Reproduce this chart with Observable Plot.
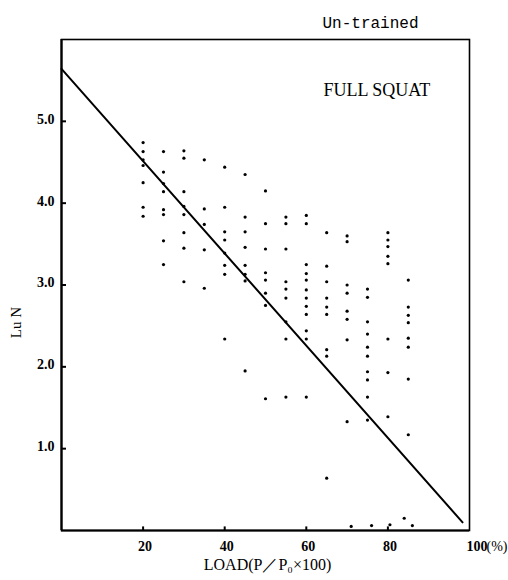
<!DOCTYPE html>
<html>
<head>
<meta charset="utf-8">
<script src="https://cdn.jsdelivr.net/npm/d3@7"></script>
<script src="https://cdn.jsdelivr.net/npm/@observablehq/plot@0.6"></script>
<style>
  html, body { margin: 0; padding: 0; background: #fff; }
  #chart svg { display: block; }
</style>
</head>
<body>
<div id="chart"></div>
<script>
// Load levels (% of P0) at which repetitions were measured
const loadLevels = [20, 25, 30, 35, 40, 45, 50, 55, 60, 65, 70, 75, 80, 85];
// Ln N values observed at each load level (same order as loadLevels)
const lnN = [
  [4.74, 4.63, 4.53, 4.46, 4.25, 3.95, 3.84],
  [4.63, 4.38, 4.24, 4.14, 3.92, 3.86, 3.54, 3.25],
  [4.64, 4.55, 4.14, 3.96, 3.86, 3.64, 3.45, 3.04],
  [4.53, 3.93, 3.74, 3.43, 2.96],
  [4.44, 3.95, 3.65, 3.55, 3.39, 3.24, 3.13, 2.34],
  [4.35, 3.83, 3.65, 3.46, 3.24, 3.13, 3.05, 1.95],
  [4.15, 3.75, 3.44, 3.15, 3.06, 2.90, 2.75, 1.61],
  [3.83, 3.75, 3.44, 3.04, 2.95, 2.84, 2.55, 2.34, 1.63],
  [3.85, 3.75, 3.25, 3.14, 3.06, 2.94, 2.84, 2.74, 2.64, 2.44, 2.34, 1.63],
  [3.64, 3.23, 3.04, 2.84, 2.73, 2.64, 2.21, 2.13, 0.64],
  [3.60, 3.53, 3.00, 2.90, 2.68, 2.58, 2.33, 1.33],
  [2.95, 2.85, 2.55, 2.40, 2.24, 2.13, 1.94, 1.84, 1.63, 1.35],
  [3.64, 3.55, 3.47, 3.35, 3.26, 2.34, 1.93, 1.39],
  [3.06, 2.73, 2.63, 2.54, 2.35, 2.24, 1.85, 1.17]
];
// Points lying near the baseline
const lowLoad = [71, 76, 80.5, 84, 86];
const lowLnN = [0.05, 0.06, 0.07, 0.15, 0.06];
// Regression line end points
const fitLoad = [0, 98.3];
const fitLnN = [5.64, 0.10];
// Tick values
const xTicks = [20, 40, 60, 80];
const yTicks = [1, 2, 3, 4, 5];

const points = [];
loadLevels.forEach((L, i) => lnN[i].forEach(v => points.push({load: L, ln: v})));
lowLoad.forEach((L, i) => points.push({load: L, ln: lowLnN[i]}));
const fit = fitLoad.map((L, i) => ({load: L, ln: fitLnN[i]}));

const serif = "Liberation Serif, DejaVu Serif, serif";

const chart = Plot.plot({
  width: 508,
  height: 580,
  marginLeft: 61,
  marginRight: 39,
  marginTop: 39,
  marginBottom: 50,
  style: {background: "#fff", color: "#000"},
  x: {domain: [0, 100], axis: null},
  y: {domain: [0, 6], axis: null},
  marks: [
    Plot.frame({stroke: "#000", strokeWidth: 1.6}),
    Plot.ruleX([0], {stroke: "#000", strokeWidth: 2.2}),
    Plot.ruleY([0], {stroke: "#000", strokeWidth: 2.2}),
    // inward tick marks
    Plot.link(yTicks, {x1: 0, x2: 1.1, y1: d => d, y2: d => d, stroke: "#000", strokeWidth: 2}),
    Plot.link(xTicks, {x1: d => d, x2: d => d, y1: 0, y2: 0.05, stroke: "#000", strokeWidth: 2}),
    // tick labels
    Plot.text(yTicks, {x: 0, y: d => d, text: d => d.toFixed(1), textAnchor: "end", dx: -7, dy: -2,
      fontFamily: serif, fontWeight: "bold", fontSize: 14, letterSpacing: "1.5px", fill: "#000"}),
    Plot.text(xTicks, {x: d => d, y: 0, text: d => String(d), dy: 16, dx: 2,
      fontFamily: serif, fontWeight: "bold", fontSize: 14, fill: "#000"}),
    Plot.text(["100"], {x: 100, y: 0, text: d => d, textAnchor: "start", dx: -3, dy: 16,
      fontFamily: serif, fontWeight: "bold", fontSize: 14, fill: "#000"}),
    Plot.text(["(%)"], {x: 100, y: 0, text: d => d, textAnchor: "start", dx: 17, dy: 16,
      fontFamily: serif, fontSize: 14, fill: "#000"}),
    // data
    Plot.dot(points, {x: "load", y: "ln", r: 1.6, fill: "#000", stroke: "none"}),
    Plot.line(fit, {x: "load", y: "ln", stroke: "#000", strokeWidth: 2}),
    // titles and axis labels
    Plot.text(["Un-trained"], {frameAnchor: "top-left", text: d => d, textAnchor: "middle", dx: 309, dy: -23,
      fontFamily: "Liberation Mono, DejaVu Sans Mono, monospace", fontSize: 16, letterSpacing: "0.8px", fill: "#000"}),
    Plot.text(["FULL SQUAT"], {frameAnchor: "top-left", text: d => d, textAnchor: "start", dx: 262, dy: 44,
      fontFamily: serif, fontSize: 18, letterSpacing: "1.5px", fill: "#000"}),
    Plot.text(["Lu N"], {frameAnchor: "left", text: d => d, rotate: -90, textAnchor: "middle", dx: -45, dy: 37.5,
      fontFamily: serif, fontSize: 15, letterSpacing: "1.5px", fill: "#000"}),
    Plot.text(["LOAD(P／P₀×100)"], {frameAnchor: "bottom", text: d => d, textAnchor: "middle", dx: 2, dy: 39,
      fontFamily: serif, fontSize: 16, letterSpacing: "0.8px", fill: "#000"})
  ]
});
document.getElementById("chart").appendChild(chart);
</script>
</body>
</html>
